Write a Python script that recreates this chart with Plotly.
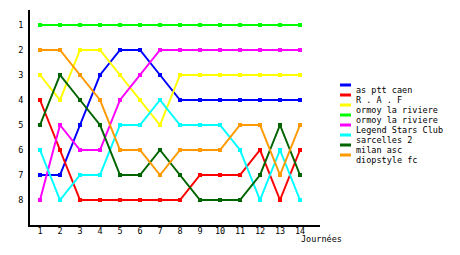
import plotly.graph_objects as go

journees = list(range(1, 15))
names = ["as ptt caen", "R . A . F", "ormoy la riviere", "ormoy la riviere",
         "Legend Stars Club", "sarcelles 2", "milan asc", "diopstyle fc"]
colors = ["#0000ff", "#ff0000", "#ffff00", "#00ff00", "#ff00ff", "#00ffff", "#006400", "#ff9900"]
as_ptt_caen = [7, 7, 5, 3, 2, 2, 3, 4, 4, 4, 4, 4, 4, 4]
raf = [4, 6, 8, 8, 8, 8, 8, 8, 7, 7, 7, 6, 8, 6]
ormoy_a = [3, 4, 2, 2, 3, 4, 5, 3, 3, 3, 3, 3, 3, 3]
ormoy_b = [1, 1, 1, 1, 1, 1, 1, 1, 1, 1, 1, 1, 1, 1]
legend_stars = [8, 5, 6, 6, 4, 3, 2, 2, 2, 2, 2, 2, 2, 2]
sarcelles = [6, 8, 7, 7, 5, 5, 4, 5, 5, 5, 6, 8, 6, 8]
milan = [5, 3, 4, 5, 7, 7, 6, 7, 8, 8, 8, 7, 5, 7]
diopstyle = [2, 2, 3, 4, 6, 6, 7, 6, 6, 6, 5, 5, 7, 5]
series = [as_ptt_caen, raf, ormoy_a, ormoy_b, legend_stars, sarcelles, milan, diopstyle]
rank_ticks = [1, 2, 3, 4, 5, 6, 7, 8]

FONT = "DejaVu Sans Mono"
FS = 8.5
L, R, T, B = 30, 140, 10, 30
W, H = 460, 255
pw, ph = W - L - R, H - T - B

def px(x):
    return (x - L) / pw

def py(y):
    return (H - B - y) / ph

fig = go.Figure()
for name, col, vals in zip(names, colors, series):
    fig.add_trace(go.Scatter(x=journees, y=vals, name=name, mode="lines+markers",
                             line=dict(color=col, width=2),
                             marker=dict(color=col, size=4, symbol="square"),
                             showlegend=False))

annotations = []
shapes = []
for i, (name, col) in enumerate(zip(names, colors)):
    ys = 85 + 10 * i
    shapes.append(dict(type="line", xref="paper", yref="paper",
                       x0=px(340), x1=px(351), y0=py(ys), y1=py(ys),
                       line=dict(color=col, width=3)))
    annotations.append(dict(text=name, xref="paper", yref="paper",
                            x=px(354), y=py(ys + 5), xanchor="left", yanchor="middle",
                            showarrow=False, font=dict(family=FONT, size=FS, color="black")))
annotations.append(dict(text="Journées", xref="paper", yref="paper",
                        x=px(299), y=py(239), xanchor="left", yanchor="middle",
                        showarrow=False, font=dict(family=FONT, size=FS, color="black")))

fig.update_layout(
    width=W, height=H,
    margin=dict(l=L, r=R, t=T, b=B),
    paper_bgcolor="white", plot_bgcolor="white",
    font=dict(family=FONT, size=FS, color="black"),
    xaxis=dict(range=[0.5, 15], tickvals=journees, showgrid=False, zeroline=False,
               showline=True, linecolor="black", linewidth=2, ticks="", ticklen=0,
               ticklabelstandoff=-3,
               tickfont=dict(family=FONT, size=FS)),
    yaxis=dict(range=[9, 0.4], tickvals=rank_ticks, showgrid=False, zeroline=False,
               showline=True, linecolor="black", linewidth=2, ticks="", ticklen=0,
               ticklabelstandoff=3,
               tickfont=dict(family=FONT, size=FS)),
    annotations=annotations, shapes=shapes,
)
fig.write_html("out.html")
